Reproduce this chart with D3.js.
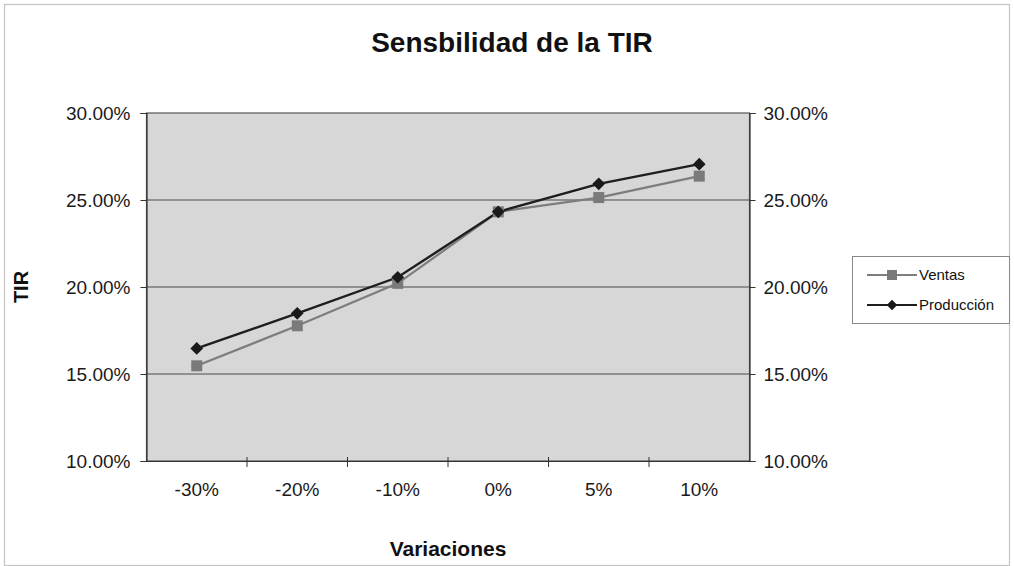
<!DOCTYPE html>
<html>
<head>
<meta charset="utf-8">
<script src="https://cdn.jsdelivr.net/npm/d3@7"></script>
<style>
  html, body { margin: 0; padding: 0; background: #fff; }
  svg { display: block; font-family: "Liberation Sans", Arial, sans-serif; }
</style>
</head>
<body>
<svg id="chart" width="1014" height="566"></svg>
<script>
// Sensitivity of the IRR (TIR) to variations in sales and production
const categories = ["-30%", "-20%", "-10%", "0%", "5%", "10%"];
const ventas     = [15.47, 17.77, 20.21, 24.32, 25.14, 26.37];
const produccion = [16.47, 18.49, 20.56, 24.32, 25.93, 27.06];
const yTicks     = [10, 15, 20, 25, 30];
const seriesNames = ["Ventas", "Producción"];

const svg = d3.select("#chart");
const W = 1014, H = 566;
const plot = { left: 146.5, right: 749.5, top: 113, bottom: 461 };

const x = d3.scaleBand().domain(categories).range([plot.left, plot.right]);
const y = d3.scaleLinear().domain([10, 30]).range([plot.bottom, plot.top]);
const fmt = d => d.toFixed(2) + "%";
const cx = c => x(c) + x.bandwidth() / 2;

// outer chart frame
svg.append("rect")
  .attr("x", 4.5).attr("y", 4.5).attr("width", W - 9).attr("height", H - 5)
  .attr("fill", "#fff").attr("stroke", "#c4c4c4").attr("stroke-width", 1.2);

// plot background
svg.append("rect")
  .attr("x", plot.left).attr("y", plot.top)
  .attr("width", plot.right - plot.left).attr("height", plot.bottom - plot.top)
  .attr("fill", "#d7d7d7").attr("stroke", "#555").attr("stroke-width", 1.2);

// horizontal gridlines
svg.append("g").selectAll("line").data(yTicks.slice(1, -1)).join("line")
  .attr("x1", plot.left).attr("x2", plot.right)
  .attr("y1", d => y(d)).attr("y2", d => y(d))
  .attr("stroke", "#4a4a4a").attr("stroke-width", 1.1);

// left axis
const leftAxis = svg.append("g")
  .attr("transform", `translate(${plot.left},0)`)
  .call(d3.axisLeft(y).tickValues(yTicks).tickFormat(fmt).tickSize(6).tickPadding(10));
// right axis
const rightAxis = svg.append("g")
  .attr("transform", `translate(${plot.right},0)`)
  .call(d3.axisRight(y).tickValues(yTicks).tickFormat(fmt).tickSize(6).tickPadding(8));

// bottom axis: ticks sit on the band boundaries
const bottomAxis = svg.append("g")
  .attr("transform", `translate(0,${plot.bottom})`)
  .call(d3.axisBottom(x).tickSize(0).tickPadding(22));
const bounds = categories.slice(1).map(c => x(c));
bottomAxis.selectAll(".bnd").data(bounds).join("line")
  .attr("class", "bnd")
  .attr("x1", d => d).attr("x2", d => d)
  .attr("y1", -4).attr("y2", 6)
  .attr("stroke", "#333").attr("stroke-width", 1);

[leftAxis, rightAxis, bottomAxis].forEach(g => {
  g.select(".domain").attr("stroke", "#333").attr("stroke-width", 1.2);
  g.selectAll(".tick line").attr("stroke", "#333");
  g.selectAll(".tick text")
    .attr("fill", "#1a1a1a")
    .style("font-size", "19px");
});

// series lines and markers
const line = d3.line()
  .x((d, i) => cx(categories[i]))
  .y(d => y(d));

svg.append("path").datum(ventas)
  .attr("d", line).attr("fill", "none")
  .attr("stroke", "#7d7d7d").attr("stroke-width", 2.2);
svg.append("path").datum(produccion)
  .attr("d", line).attr("fill", "none")
  .attr("stroke", "#1e1e1e").attr("stroke-width", 2.4);

const sq = 11;
svg.append("g").selectAll("rect").data(ventas).join("rect")
  .attr("x", (d, i) => cx(categories[i]) - sq / 2)
  .attr("y", d => y(d) - sq / 2)
  .attr("width", sq).attr("height", sq)
  .attr("fill", "#7a7a7a");

// diamond marker: a square turned 45 degrees
const diamond = d3.symbol().type(d3.symbolSquare).size(81);
svg.append("g").selectAll("path").data(produccion).join("path")
  .attr("d", diamond)
  .attr("transform", (d, i) => `translate(${cx(categories[i])},${y(d)}) rotate(45)`)
  .attr("fill", "#1a1a1a");

// titles
svg.append("text")
  .attr("x", 512).attr("y", 52).attr("text-anchor", "middle")
  .style("font-size", "28px").style("font-weight", "bold").attr("fill", "#111")
  .text("Sensbilidad de la TIR");

svg.append("text")
  .attr("x", 448).attr("y", 556).attr("text-anchor", "middle")
  .style("font-size", "21px").style("font-weight", "bold").attr("fill", "#111")
  .text("Variaciones");

svg.append("text")
  .attr("transform", `translate(28,${(plot.top + plot.bottom) / 2}) rotate(-90)`)
  .attr("text-anchor", "middle")
  .style("font-size", "20px").style("font-weight", "bold").attr("fill", "#111")
  .text("TIR");

// legend
const lg = svg.append("g").attr("transform", "translate(852,256)");
lg.append("rect").attr("x", 0.5).attr("y", 0.5).attr("width", 157).attr("height", 67)
  .attr("fill", "#fff").attr("stroke", "#888").attr("stroke-width", 1);
const rows = [
  { name: seriesNames[0], color: "#7d7d7d", marker: "square" },
  { name: seriesNames[1], color: "#1e1e1e", marker: "diamond" }
];
rows.forEach((r, i) => {
  const cy = 19 + i * 30;
  lg.append("line").attr("x1", 15).attr("x2", 65).attr("y1", cy).attr("y2", cy)
    .attr("stroke", r.color).attr("stroke-width", 2);
  if (r.marker === "square") {
    lg.append("rect").attr("x", 40 - 5).attr("y", cy - 5).attr("width", 10).attr("height", 10)
      .attr("fill", "#7a7a7a");
  } else {
    lg.append("path").attr("d", d3.symbol().type(d3.symbolSquare).size(56))
      .attr("transform", `translate(40,${cy}) rotate(45)`).attr("fill", "#1a1a1a");
  }
  lg.append("text").attr("x", 67).attr("y", cy + 5)
    .style("font-size", "15px").attr("fill", "#111")
    .text(r.name);
});
</script>
</body>
</html>
